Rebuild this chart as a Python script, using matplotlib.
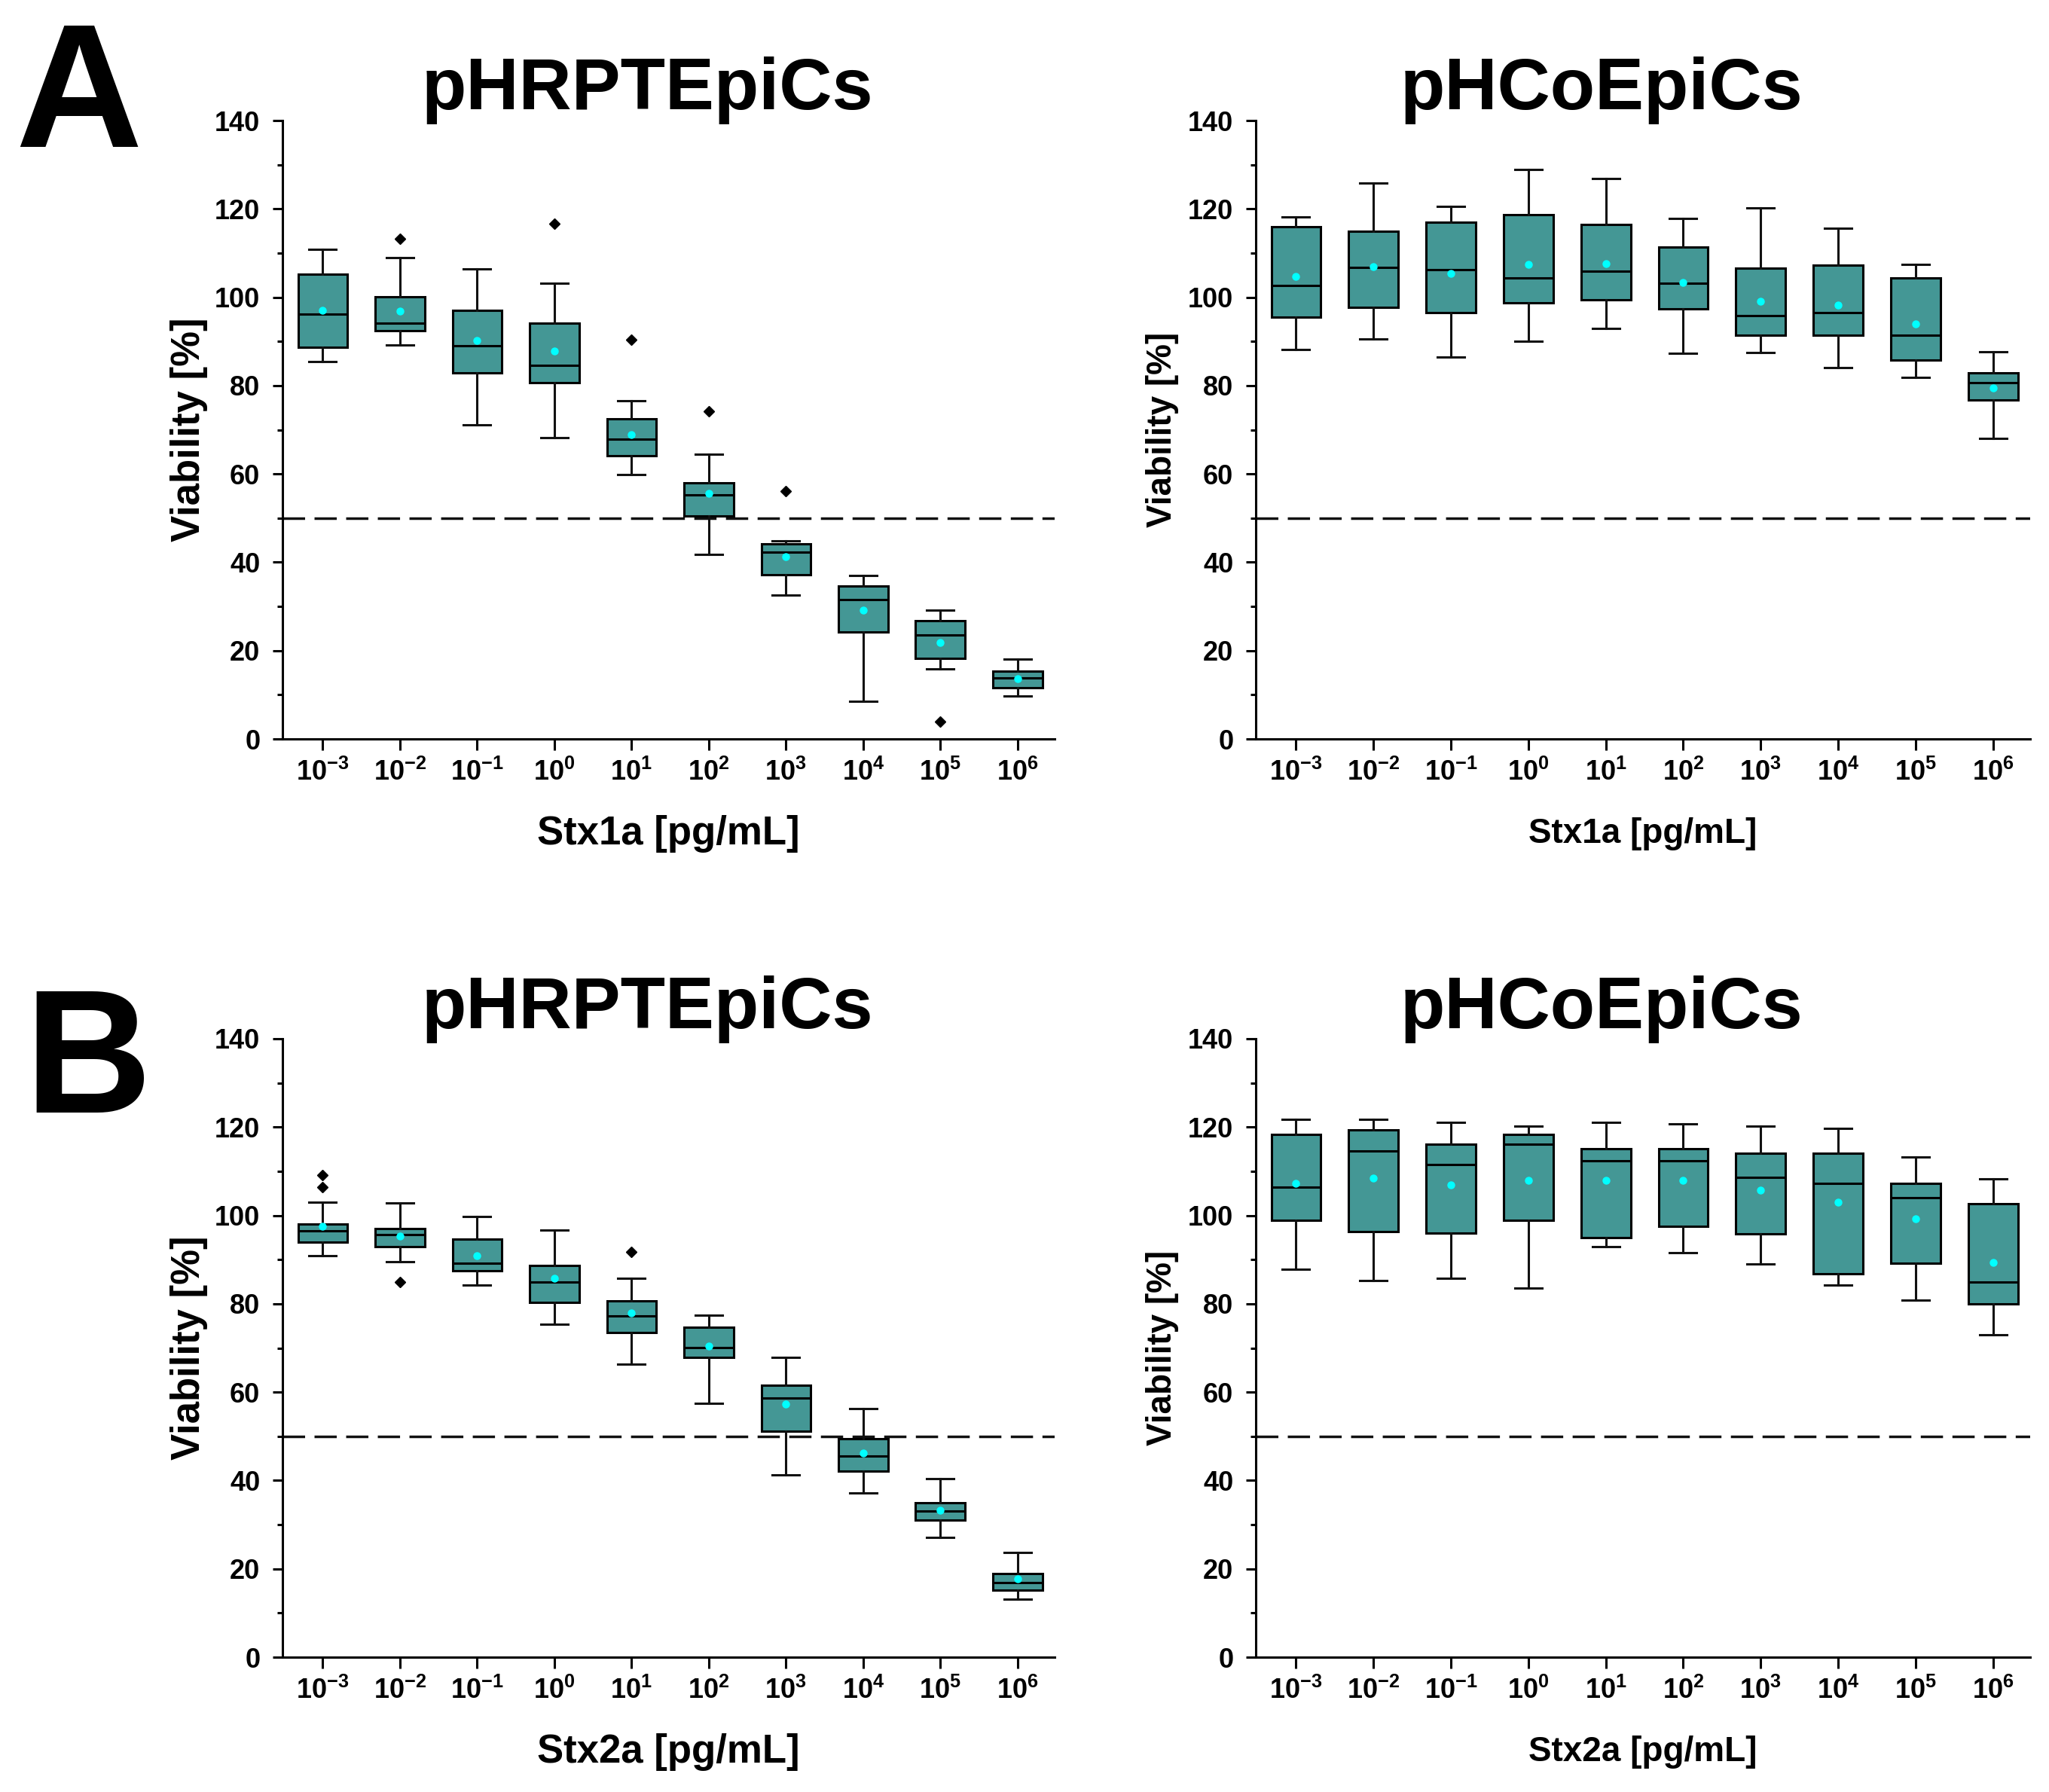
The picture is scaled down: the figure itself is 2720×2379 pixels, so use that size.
import matplotlib
matplotlib.use("Agg")
import matplotlib.pyplot as plt

plt.rcParams['font.family'] = ['Liberation Sans', 'DejaVu Sans']
plt.rcParams['font.weight'] = 'bold'
plt.rcParams['mathtext.fontset'] = 'custom'
plt.rcParams['mathtext.rm'] = 'Liberation Sans:bold'
plt.rcParams['mathtext.bf'] = 'Liberation Sans:bold'
plt.rcParams['mathtext.it'] = 'Liberation Sans:bold'
plt.rcParams['mathtext.default'] = 'rm'

# ---------------- data ----------------
conc_labels = ['$10^{-3}$', '$10^{-2}$', '$10^{-1}$', '$10^{0}$', '$10^{1}$',
               '$10^{2}$', '$10^{3}$', '$10^{4}$', '$10^{5}$', '$10^{6}$']

# Panel A, pHRPTEpiCs, Stx1a
a1_whislo = [85.4, 89.1, 71.1, 68.2, 59.8, 41.8, 32.6, 8.5, 15.9, 9.7]
a1_q1     = [88.6, 92.4, 82.8, 80.6, 64.1, 50.4, 37.1, 24.2, 18.2, 11.6]
a1_med    = [96.2, 94.2, 89.0, 84.6, 67.8, 55.3, 42.3, 31.5, 23.6, 13.8]
a1_q3     = [105.2, 100.1, 97.0, 94.2, 72.4, 58.0, 44.1, 34.7, 26.8, 15.3]
a1_whishi = [110.9, 109.0, 106.4, 103.2, 76.6, 64.5, 44.9, 37.0, 29.1, 18.1]
a1_mean   = [97.0, 96.9, 90.2, 87.8, 68.9, 55.6, 41.2, 29.1, 21.9, 13.6]
a1_fliers = [[], [113.2], [], [116.6], [90.4], [74.2], [56.1], [], [3.9], []]

# Panel A, pHCoEpiCs, Stx1a
a2_whislo = [88.2, 90.5, 86.4, 90.0, 92.9, 87.3, 87.4, 84.1, 81.9, 68.1]
a2_q1     = [95.5, 97.7, 96.5, 98.8, 99.4, 97.4, 91.4, 91.4, 85.8, 76.7]
a2_med    = [102.7, 106.7, 106.3, 104.4, 105.9, 103.1, 95.9, 96.6, 91.4, 80.7]
a2_q3     = [116.0, 115.0, 116.9, 118.6, 116.5, 111.3, 106.6, 107.2, 104.4, 82.9]
a2_whishi = [118.2, 125.8, 120.6, 129.0, 126.8, 117.8, 120.2, 115.6, 107.5, 87.6]
a2_mean   = [104.7, 106.9, 105.4, 107.5, 107.6, 103.4, 99.0, 98.2, 93.9, 79.5]
a2_fliers = [[], [], [], [], [], [], [], [], [], []]

# Panel B, pHRPTEpiCs, Stx2a
b1_whislo = [90.9, 89.6, 84.2, 75.4, 66.4, 57.5, 41.3, 37.1, 27.1, 13.1]
b1_q1     = [93.9, 92.9, 87.5, 80.3, 73.5, 67.8, 51.1, 42.2, 31.1, 15.1]
b1_med    = [96.6, 95.6, 89.1, 85.0, 77.2, 70.1, 58.6, 45.6, 33.1, 16.9]
b1_q3     = [98.0, 97.0, 94.7, 88.7, 80.7, 74.7, 61.6, 49.4, 34.9, 19.0]
b1_whishi = [103.0, 102.9, 99.8, 96.7, 85.8, 77.4, 67.8, 56.2, 40.4, 23.7]
b1_mean   = [97.5, 95.3, 90.9, 85.7, 77.9, 70.4, 57.3, 46.2, 33.3, 17.7]
b1_fliers = [[106.4, 109.2], [85.0], [], [], [91.7], [], [], [], [], []]

# Panel B, pHCoEpiCs, Stx2a
b2_whislo = [87.8, 85.2, 85.7, 83.6, 92.9, 91.5, 89.0, 84.2, 80.9, 72.9]
b2_q1     = [98.9, 96.4, 96.0, 98.9, 94.9, 97.6, 95.8, 86.8, 89.2, 79.9]
b2_med    = [106.4, 114.6, 111.6, 116.1, 112.4, 112.4, 108.6, 107.2, 104.1, 85.0]
b2_q3     = [118.3, 119.3, 116.1, 118.3, 115.1, 115.1, 114.1, 114.1, 107.2, 102.6]
b2_whishi = [121.7, 121.8, 121.1, 120.3, 121.1, 120.7, 120.3, 119.7, 113.3, 108.2]
b2_mean   = [107.2, 108.4, 107.0, 108.0, 107.9, 107.9, 105.8, 103.0, 99.2, 89.4]
b2_fliers = [[], [], [], [], [], [], [], [], [], []]

titles = ['pHRPTEpiCs', 'pHCoEpiCs', 'pHRPTEpiCs', 'pHCoEpiCs']
xlabels = ['Stx1a [pg/mL]', 'Stx1a [pg/mL]', 'Stx2a [pg/mL]', 'Stx2a [pg/mL]']
ylabel = 'Viability [%]'
threshold = 50
panel_letters = ['A', 'B']

panels = [
    (a1_whislo, a1_q1, a1_med, a1_q3, a1_whishi, a1_mean, a1_fliers),
    (a2_whislo, a2_q1, a2_med, a2_q3, a2_whishi, a2_mean, a2_fliers),
    (b1_whislo, b1_q1, b1_med, b1_q3, b1_whishi, b1_mean, b1_fliers),
    (b2_whislo, b2_q1, b2_med, b2_q3, b2_whishi, b2_mean, b2_fliers),
]

# ---------------- figure ----------------
W, H = 2720, 2379
fig = plt.figure(figsize=(W / 100, H / 100), dpi=100)

box_color = '#449795'
lw = 2.2

top_base = 981
bot_base = 2200
ax_h = 821
rects = [
    [375 / W, 1 - top_base / H, 1025 / W, ax_h / H],
    [1667 / W, 1 - top_base / H, 1028 / W, ax_h / H],
    [375 / W, 1 - bot_base / H, 1025 / W, ax_h / H],
    [1667 / W, 1 - bot_base / H, 1028 / W, ax_h / H],
]
label_sizes = [38, 33, 38, 33]

positions = list(range(1, len(conc_labels) + 1))

for i, (rect, data) in enumerate(zip(rects, panels)):
    ax = fig.add_axes(rect)
    wlo, q1, med, q3, whi, mean, fl = data
    stats = []
    for k in range(len(conc_labels)):
        stats.append(dict(med=med[k], q1=q1[k], q3=q3[k], whislo=wlo[k],
                          whishi=whi[k], mean=mean[k], fliers=fl[k]))
    ax.axhline(threshold, color='#111111', lw=lw + 0.3, ls=(0, (8.5, 3.6)), zorder=1)
    ax.bxp(stats, positions=positions, widths=0.64, patch_artist=True,
           showmeans=True, showfliers=True,
           boxprops=dict(facecolor=box_color, edgecolor='black', linewidth=lw),
           medianprops=dict(color='black', linewidth=lw),
           whiskerprops=dict(color='#111111', linewidth=lw),
           capprops=dict(color='#111111', linewidth=lw),
           capwidths=0.35,
           meanprops=dict(marker='o', markerfacecolor='#00FFFF',
                          markeredgecolor='#00FFFF', markersize=6.5),
           flierprops=dict(marker='D', markerfacecolor='black',
                           markeredgecolor='black', markersize=7))
    ax.set_xlim(0.48, 10.48)
    ax.set_ylim(0, 140)
    ax.set_yticks(range(0, 141, 20))
    ax.set_yticks(range(10, 140, 20), minor=True)
    ax.set_xticks(positions)
    ax.set_xticklabels(conc_labels)
    for s in ['top', 'right']:
        ax.spines[s].set_visible(False)
    for s in ['left', 'bottom']:
        ax.spines[s].set_linewidth(lw)
    ax.tick_params(axis='y', which='major', direction='out', length=9.4,
                   width=lw, labelsize=26, pad=12)
    ax.tick_params(axis='y', which='minor', direction='out', length=5,
                   width=lw)
    ax.tick_params(axis='x', which='major', direction='out', length=11,
                   width=lw, labelsize=26, pad=8)
    for t in ax.get_xticklabels() + ax.get_yticklabels():
        t.set_fontweight('bold')
    ax.set_xlabel(xlabels[i], fontsize=label_sizes[i], fontweight='bold')
    ax.set_ylabel(ylabel, fontsize=label_sizes[i], fontweight='bold')
    ax.xaxis.set_label_coords(0.5, -0.1535)
    ax.xaxis.label.set_va('center')
    ax.yaxis.set_label_coords(-0.121, 0.5)
    ax.yaxis.label.set_va('center')

# titles
fig.text(0.3158, 1 - 145 / H, titles[0], fontsize=70, fontweight='bold',
         ha='center', va='baseline')
fig.text(0.7815, 1 - 145 / H, titles[1], fontsize=70, fontweight='bold',
         ha='center', va='baseline')
fig.text(0.3158, 1 - 1365 / H, titles[2], fontsize=70, fontweight='bold',
         ha='center', va='baseline')
fig.text(0.7815, 1 - 1365 / H, titles[3], fontsize=70, fontweight='bold',
         ha='center', va='baseline')

# panel letters
fig.text(20 / W, 1 - 195 / H, panel_letters[0], fontsize=168,
         fontweight='bold', ha='left', va='baseline')
fig.text(32 / W, 1 - 1477 / H, panel_letters[1], fontsize=168,
         fontweight='bold', ha='left', va='baseline')

fig.savefig('out.png', dpi=100, facecolor='white')
